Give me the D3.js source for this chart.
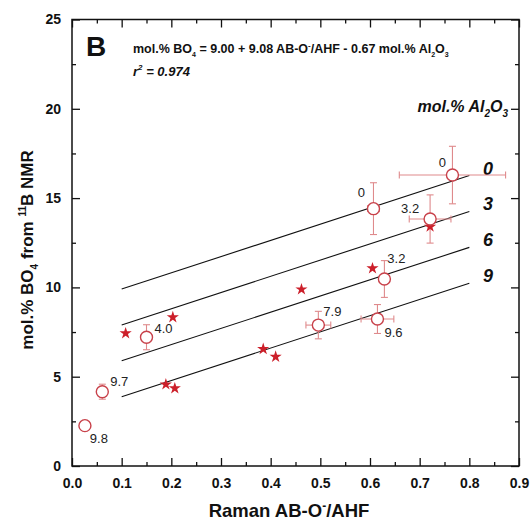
<!DOCTYPE html>
<html><head><meta charset="utf-8">
<script src="https://cdn.jsdelivr.net/npm/d3@7"></script>
<style>body{margin:0;background:#fff}svg{display:block}text{font-family:"Liberation Sans",Arial,sans-serif}</style>
</head><body><div id="c"></div>
<script>
// Open circles (with error bars) and labels
const ptX   = [0.766, 0.607, 0.721, 0.629, 0.496, 0.615, 0.150, 0.061, 0.026];
const ptY   = [16.29, 14.41, 13.83, 10.47, 7.89, 8.23, 7.21, 4.16, 2.26];
const ptXe  = [0.107, 0.012, 0.042, 0.010, 0.025, 0.033, 0, 0, 0];
const ptYe  = [1.61, 1.45, 1.35, 1.03, 0.77, 0.81, 0.70, 0.42, 0.15];
const ptLab = ["0", "0", "3.2", "3.2", "7.9", "9.6", "4.0", "9.7", "9.8"];
const labDx = [-10, -12, -20, 12, 14, 16, 17, 17, 14];
const labDy = [-13, -16, -10, -21, -14, 13, -9, -10, 13];
// Filled stars
const stX = [0.108, 0.203, 0.462, 0.605, 0.721, 0.189, 0.207, 0.385, 0.410];
const stY = [7.43, 8.33, 9.89, 11.07, 13.40, 4.57, 4.35, 6.55, 6.12];
// Model lines (mol.% Al2O3 = 0, 3, 6, 9)
const lineLab = ["0", "3", "6", "9"];
const lineX0 = 0.1, lineX1 = 0.8;
const lineY0 = [9.91, 7.90, 5.89, 3.88];
const lineY1 = [16.26, 14.25, 12.24, 10.23];
// Axis ticks
const xTicks = [0.0, 0.1, 0.2, 0.3, 0.4, 0.5, 0.6, 0.7, 0.8, 0.9];
const yTicks = [0, 5, 10, 15, 20, 25];

const W = 532, H = 520;
const svg = d3.select("#c").append("svg").attr("width", W).attr("height", H);
const L = 72, R = 519, T = 19.5, B = 466;
const x = d3.scaleLinear().domain([0, 0.9]).range([L, R]);
const y = d3.scaleLinear().domain([0, 25]).range([B, T]);

const g = svg.append("g");
// frame
g.append("rect").attr("x", L).attr("y", T).attr("width", R - L).attr("height", B - T)
  .attr("fill", "none").attr("stroke", "#111").attr("stroke-width", 1.5);

const xMinor = d3.range(0.05, 0.9, 0.1);
const yMinor = d3.range(2.5, 25, 5);
function ticks(axisGen, sc, vals, len, tr) {
  const a = g.append("g").attr("transform", tr)
    .call(axisGen(sc).tickValues(vals).tickSize(len).tickFormat(""));
  a.select(".domain").remove();
  a.selectAll("line").attr("stroke", "#111").attr("stroke-width", 1.3);
}
ticks(d3.axisTop, x, xTicks, 8, `translate(0,${B})`);
ticks(d3.axisTop, x, xMinor, 4, `translate(0,${B})`);
ticks(d3.axisBottom, x, xTicks, 8, `translate(0,${T})`);
ticks(d3.axisBottom, x, xMinor, 4, `translate(0,${T})`);
ticks(d3.axisRight, y, yTicks, 8, `translate(${L},0)`);
ticks(d3.axisRight, y, yMinor, 4, `translate(${L},0)`);
ticks(d3.axisLeft, y, yTicks, 8, `translate(${R},0)`);
ticks(d3.axisLeft, y, yMinor, 4, `translate(${R},0)`);

// tick labels
const xl = g.append("g").attr("transform", `translate(0,${B})`)
  .call(d3.axisBottom(x).tickValues(xTicks).tickSize(0).tickPadding(12).tickFormat(d3.format(".1f")));
xl.select(".domain").remove();
xl.selectAll("text").attr("font-size", 14).attr("font-weight", "bold").attr("fill", "#111")
  .attr("font-family", "Liberation Sans, Arial, sans-serif");
const yl = g.append("g").attr("transform", `translate(${L},0)`)
  .call(d3.axisLeft(y).tickValues(yTicks).tickSize(0).tickPadding(11).tickFormat(d3.format("d")));
yl.select(".domain").remove();
yl.selectAll("text").attr("font-size", 14).attr("font-weight", "bold").attr("fill", "#111")
  .attr("font-family", "Liberation Sans, Arial, sans-serif");

// axis titles
const xt = svg.append("text").attr("x", 289).attr("y", 517).attr("text-anchor", "middle")
  .attr("font-size", 18.5).attr("font-weight", "bold").attr("fill", "#111");
xt.append("tspan").text("Raman AB-O");
xt.append("tspan").text("-").attr("font-size", 12).attr("dy", -7);
xt.append("tspan").text("/AHF").attr("dy", 7);

const yt = svg.append("text").attr("transform", "translate(33,250) rotate(-90)").attr("text-anchor", "middle")
  .attr("font-size", 17).attr("font-weight", "bold").attr("fill", "#111");
yt.append("tspan").text("mol.% BO");
yt.append("tspan").text("4").attr("font-size", 10).attr("dy", 5);
yt.append("tspan").text(" from ").attr("dy", -5);
yt.append("tspan").text("11").attr("font-size", 10).attr("dy", -7);
yt.append("tspan").text("B NMR").attr("dy", 7);

// model lines
const lineG = g.append("g");
lineLab.forEach((lab, i) => {
  lineG.append("line").attr("x1", x(lineX0)).attr("y1", y(lineY0[i]))
    .attr("x2", x(lineX1)).attr("y2", y(lineY1[i]))
    .attr("stroke", "#111").attr("stroke-width", 1.1);
  lineG.append("text").attr("x", 488).attr("y", y(lineY1[i]) - 1)
    .attr("text-anchor", "middle").attr("font-size", 18).attr("font-weight", "bold")
    .attr("font-style", "italic").attr("fill", "#111").text(lab);
});

// error bars
const eb = "#df8a8c", cap = 3.5;
const eg = g.append("g").attr("stroke", eb).attr("stroke-width", 1.1);
ptX.forEach((px, i) => {
  const cx = x(px), cy = y(ptY[i]);
  if (ptYe[i] > 0) {
    const y1 = y(ptY[i] + ptYe[i]), y2 = y(ptY[i] - ptYe[i]);
    eg.append("line").attr("x1", cx).attr("x2", cx).attr("y1", y1).attr("y2", y2);
    eg.append("line").attr("x1", cx - cap).attr("x2", cx + cap).attr("y1", y1).attr("y2", y1);
    eg.append("line").attr("x1", cx - cap).attr("x2", cx + cap).attr("y1", y2).attr("y2", y2);
  }
  if (ptXe[i] > 0) {
    const x1 = x(px - ptXe[i]), x2 = x(px + ptXe[i]);
    eg.append("line").attr("x1", x1).attr("x2", x2).attr("y1", cy).attr("y2", cy);
    eg.append("line").attr("x1", x1).attr("x2", x1).attr("y1", cy - cap).attr("y2", cy + cap);
    eg.append("line").attr("x1", x2).attr("x2", x2).attr("y1", cy - cap).attr("y2", cy + cap);
  }
});

// stars
const star = d3.symbol().type(d3.symbolStar).size(46);
g.append("g").selectAll("path").data(stX).join("path")
  .attr("d", star).attr("transform", (d, i) => `translate(${x(d)},${y(stY[i])})`)
  .attr("fill", "#cc1f2a");

// open circles
g.append("g").selectAll("circle").data(ptX).join("circle")
  .attr("cx", d => x(d)).attr("cy", (d, i) => y(ptY[i])).attr("r", 6)
  .attr("fill", "#fff").attr("stroke", "#c8414a").attr("stroke-width", 1.4);

// point labels
g.append("g").selectAll("text").data(ptLab).join("text")
  .attr("x", (d, i) => x(ptX[i]) + labDx[i]).attr("y", (d, i) => y(ptY[i]) + labDy[i] + 4.5)
  .attr("text-anchor", "middle").attr("font-size", 13).attr("fill", "#222").text(d => d);

// header annotations
svg.append("text").attr("x", 86).attr("y", 56).attr("font-size", 28).attr("font-weight", "bold")
  .attr("fill", "#111").text("B");
const eq = svg.append("text").attr("x", 133).attr("y", 53).attr("font-size", 12.5)
  .attr("font-weight", "bold").attr("fill", "#111");
eq.append("tspan").text("mol.% BO");
eq.append("tspan").text("4").attr("font-size", 7).attr("dy", 4);
eq.append("tspan").text(" = 9.00 + 9.08 AB-O").attr("dy", -4);
eq.append("tspan").text("-").attr("font-size", 8).attr("dy", -5);
eq.append("tspan").text("/AHF - 0.67 mol.% Al").attr("dy", 5);
eq.append("tspan").text("2").attr("font-size", 7).attr("dy", 4);
eq.append("tspan").text("O").attr("dy", -4);
eq.append("tspan").text("3").attr("font-size", 7).attr("dy", 4);

const r2 = svg.append("text").attr("x", 133).attr("y", 76).attr("font-size", 13)
  .attr("font-weight", "bold").attr("font-style", "italic").attr("fill", "#111");
r2.append("tspan").text("r");
r2.append("tspan").text("2").attr("font-size", 8).attr("dy", -6);
r2.append("tspan").text(" = 0.974").attr("dy", 6);

const al = svg.append("text").attr("x", 508).attr("y", 112).attr("text-anchor", "end")
  .attr("font-size", 16).attr("font-weight", "bold").attr("font-style", "italic").attr("fill", "#111");
al.append("tspan").text("mol.% Al");
al.append("tspan").text("2").attr("font-size", 10).attr("dy", 5);
al.append("tspan").text("O").attr("dy", -5);
al.append("tspan").text("3").attr("font-size", 10).attr("dy", 5);
</script></body></html>
